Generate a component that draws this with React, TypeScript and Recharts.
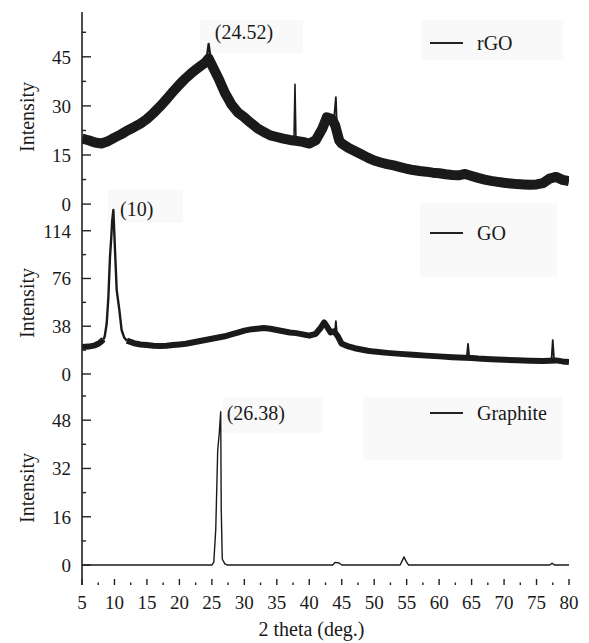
import React from 'react';
import { LineChart, Line, XAxis, YAxis, ReferenceDot, Label } from 'recharts';

const FONT = '"Liberation Serif", "Times New Roman", serif';
const INK = '#1a1a1a';
const FRAME = '#222';

// ---- axes ----
const thetaDomain: [number, number] = [5, 80];
const thetaMajorTicks = [5, 10, 15, 20, 25, 30, 35, 40, 45, 50, 55, 60, 65, 70, 75, 80];
const thetaMinorTicks = [7.5, 12.5, 17.5, 22.5, 27.5, 32.5, 37.5, 42.5, 47.5, 52.5, 57.5, 62.5, 67.5, 72.5, 77.5];

const rgoMajorTicks = [0, 15, 30, 45];
const rgoMinorTicks = [7.5, 22.5, 37.5, 52.5];
const goMajorTicks = [0, 38, 76, 114];
const goMinorTicks = [19, 57, 95];
const graphiteMajorTicks = [0, 16, 32, 48];
const graphiteMinorTicks = [8, 24, 40, 56];

const rgoDomain: [number, number] = [-1.2, 58.7];
const goDomain: [number, number] = [-4.8, 132.1];
const graphiteDomain: [number, number] = [-6.6, 61.3];

// ---- series names ----
const seriesNames = ['rGO', 'GO', 'Graphite'];

// ---- data: [2theta, intensity] ----
const rgoBand = [
  [5, 20], [6, 19.5], [7, 18.8], [8, 18.5], [9, 19.2], [10, 20.3], [11, 21.3], [12, 22.5], [13, 23.5], [14, 24.6],
  [15, 26], [16, 27.8], [17, 29.8], [18, 32], [19, 34.3], [20, 36.5], [21, 38.5], [22, 40.3], [23, 41.8], [24, 43.3],
  [24.5, 44.5], [25, 42.5], [26, 38.5], [27, 34], [28, 30.5], [29, 28], [30, 26.5], [31, 24.8], [32, 23.2], [33, 22],
  [34, 21], [35, 20.5], [36, 20], [37, 19.6], [38, 19.3], [39, 19], [40, 18.5], [41, 19.5], [42, 23], [42.7, 26.5],
  [43.5, 26], [44, 24], [44.6, 19.5], [45, 18.5], [46, 17.2], [47, 16.2], [48, 15.2], [49, 14.2], [50, 13.3], [51, 12.7],
  [52, 12.2], [53, 11.8], [54, 11.3], [55, 10.8], [56, 10.4], [57, 10.1], [58, 9.9], [59, 9.6], [60, 9.4], [61, 9.1],
  [62, 8.9], [63, 8.8], [64, 9.2], [65, 8.6], [66, 8], [67, 7.5], [68, 7.1], [69, 6.8], [70, 6.5], [71, 6.3],
  [72, 6.1], [73, 6], [74, 5.9], [75, 6], [76, 6.4], [77, 7.8], [78, 8.3], [79, 7.4], [80, 7],
];
const rgoPeakTop = [[24.15, 44], [24.5, 49], [24.85, 44]];
const rgoSpike38 = [[37.65, 19.8], [37.8, 36.6], [37.95, 19.6]];
const rgoSpike44 = [[43.85, 27], [44.1, 32.7], [44.3, 21]];

const goBandLeft = [[5, 21.5], [6, 21.8], [7, 22.8], [7.5, 24], [8, 26], [8.3, 27.5]];
const goPeak = [
  [8.3, 27.5], [8.5, 30], [8.8, 40], [9.06, 61], [9.31, 93], [9.5, 108], [9.65, 122], [9.83, 130.5],
  [10.08, 99], [10.34, 67], [10.75, 51], [11.1, 35], [11.5, 29], [11.9, 26.5],
];
const goBandRight = [
  [11.9, 26.5], [13, 24.5], [14, 23.5], [15, 23], [16, 22.5], [17, 22.3], [18, 22.5], [19, 23], [20, 23.5], [21, 24],
  [22, 25], [23, 26], [24, 27], [25, 28], [26, 29], [27, 30], [28, 31.5], [29, 33], [30, 34.5], [31, 35.5],
  [32, 36], [33, 36.5], [34, 36], [35, 35], [36, 34], [37, 33], [38, 32.5], [39, 31.5], [40, 30.5], [41, 32],
  [41.8, 37], [42.3, 41], [42.8, 37], [43.3, 33], [43.8, 34], [44.4, 30], [45, 24], [46, 22], [47, 20.5], [48, 19.5],
  [49, 18.5], [50, 17.8], [52, 16.8], [54, 16], [56, 15.3], [58, 14.6], [60, 14], [62, 13.4], [64, 13], [65, 12.7],
  [66, 12.3], [68, 11.8], [70, 11.3], [72, 10.9], [74, 10.6], [76, 10.3], [77, 10.5], [78, 10.8], [79, 10], [80, 9.5],
];
const goSpike44 = [[43.95, 33], [44.1, 42], [44.3, 29]];
const goSpike64 = [[64.25, 13], [64.45, 24], [64.65, 12.8]];
const goSpike77 = [[77.3, 10.6], [77.5, 27], [77.7, 10.7]];

const graphiteLine = [
  [5, 0], [25, 0], [25.3, 1], [25.6, 12], [25.9, 38], [26.15, 44], [26.36, 50.8], [26.44, 19], [26.6, 2], [27, 0.4],
  [27.4, 0], [43.6, 0], [44, 0.9], [44.6, 0.7], [45, 0], [54, 0], [54.3, 1.4], [54.6, 2.7], [54.9, 1.3], [55.3, 0],
  [77, 0], [77.4, 0.6], [77.8, 0], [80, 0],
];

// annotations
const rgoNote = { theta: 25.45, value: 52.5, text: '(24.52)' };
const goNote = { theta: 10.85, value: 131, text: '(10)' };
const graphiteNote = { theta: 27.28, value: 50.5, text: '(26.38)' };

// faint background boxes behind labels/legends (page pixels: left, top, width, height)
const shadeBoxes = [
  [200, 20, 103, 33],
  [422, 20, 141, 40],
  [420, 203, 137, 74],
  [108, 190, 75, 33],
  [223, 397, 100, 36],
  [363, 397, 199, 63],
];
// legend rows (page pixel centre line)
const legendRows = [43, 233, 413];

const toPts = (arr: number[][]) => arr.map(([x, y]) => ({ x, y }));
const sortAll = (a: number[], b: number[]) => [...a, ...b].sort((p, q) => p - q);

// ---- tick renderers ----
const leftTick = (majors: number[]) => (p: any) => {
  const v = p.payload.value;
  const major = majors.includes(v);
  return (
    <g>
      <line x1={p.x} x2={p.x + (major ? 9 : 4)} y1={p.y} y2={p.y} stroke={FRAME} strokeWidth={1.4} />
      {major && (
        <text x={p.x - 11} y={p.y} dy="0.36em" textAnchor="end" fontSize={19} fontFamily={FONT} fill={INK}>
          {v}
        </text>
      )}
    </g>
  );
};
const rightTick = (majors: number[]) => (p: any) => {
  const major = majors.includes(p.payload.value);
  return <line x1={p.x} x2={p.x - (major ? 6 : 4)} y1={p.y} y2={p.y} stroke={FRAME} strokeWidth={1.4} />;
};
const topTick = (p: any) => {
  const major = thetaMajorTicks.includes(p.payload.value);
  return <line x1={p.x} x2={p.x} y1={p.y} y2={p.y + (major ? 6 : 3)} stroke={FRAME} strokeWidth={1.4} />;
};
const bottomTick = (p: any) => {
  const v = p.payload.value;
  const major = thetaMajorTicks.includes(v);
  return (
    <g>
      <line x1={p.x} x2={p.x} y1={p.y} y2={p.y - (major ? 6 : 2.5)} stroke={FRAME} strokeWidth={1.4} />
      {major && (
        <text x={p.x} y={p.y + 24} textAnchor="middle" fontSize={19} fontFamily={FONT} fill={INK}>
          {v}
        </text>
      )}
    </g>
  );
};

const intensityLabel = (shift: number) => (p: any) => {
  const vb = p.viewBox || {};
  const cy = vb.y + vb.height / 2 + shift;
  return (
    <text
      x={27}
      y={cy}
      transform={`rotate(-90, 27, ${cy})`}
      textAnchor="middle"
      dominantBaseline="central"
      fontSize={20}
      fontFamily={FONT}
      fill={INK}
    >
      Intensity
    </text>
  );
};

const noteLabel = (text: string) => (p: any) => {
  const vb = p.viewBox || {};
  return (
    <text x={vb.x} y={vb.y} dy="0.35em" fontSize={20} fontFamily={FONT} fill={INK}>
      {text}
    </text>
  );
};

const axisStroke = { stroke: FRAME, strokeWidth: 1.6 };

const seriesLine = (key: string, data: number[][], width: number) => (
  <Line
    key={key}
    xAxisId="x"
    yAxisId="l"
    data={toPts(data)}
    dataKey="y"
    type="linear"
    dot={false}
    activeDot={false}
    stroke={INK}
    strokeWidth={width}
    strokeLinejoin="round"
    isAnimationActive={false}
  />
);

const yAxes = (domain: [number, number], majors: number[], minors: number[], shift: number) => [
  <YAxis
    key="l"
    yAxisId="l"
    type="number"
    domain={domain}
    allowDataOverflow
    ticks={sortAll(majors, minors)}
    interval={0}
    width={82}
    tickSize={0}
    tickMargin={0}
    tickLine={false}
    tick={leftTick(majors)}
    axisLine={axisStroke}
  >
    <Label content={intensityLabel(shift)} />
  </YAxis>,
  <YAxis
    key="r"
    yAxisId="r"
    orientation="right"
    type="number"
    domain={domain}
    allowDataOverflow
    ticks={sortAll(majors, minors)}
    interval={0}
    width={0}
    tickSize={0}
    tickMargin={0}
    tickLine={false}
    tick={rightTick(majors)}
    axisLine={axisStroke}
  />,
];

const W = 589;
const H = 643;
const layer: React.CSSProperties = { position: 'absolute', left: 0, top: 0 };

export default function App() {
  const allTheta = sortAll(thetaMajorTicks, thetaMinorTicks);
  return (
    <div style={{ position: 'absolute', left: 0, top: 0, width: W, height: H, background: '#fff', fontFamily: FONT }}>
      {shadeBoxes.map(([l, t, w, h], i) => (
        <div key={i} style={{ position: 'absolute', left: l, top: t, width: w, height: h, background: '#f9f9f9' }} />
      ))}
      {/* rGO panel: plot rows 12..208 */}
      <div style={layer}>
        <LineChart width={W} height={H} margin={{ top: 12, right: 20, bottom: 435, left: 0 }}>
          <XAxis
            xAxisId="x"
            type="number"
            dataKey="x"
            domain={thetaDomain}
            allowDataOverflow
            orientation="top"
            height={0}
            ticks={allTheta}
            interval={0}
            tickSize={0}
            tickMargin={0}
            tickLine={false}
            tick={topTick}
            axisLine={axisStroke}
          />
          {yAxes(rgoDomain, rgoMajorTicks, rgoMinorTicks, 7)}
          {seriesLine('rgo', rgoBand, 10)}
          {seriesLine('rgo-top', rgoPeakTop, 2.2)}
          {seriesLine('rgo-s38', rgoSpike38, 1.6)}
          {seriesLine('rgo-s44', rgoSpike44, 1.8)}
          <ReferenceDot xAxisId="x" yAxisId="l" x={rgoNote.theta} y={rgoNote.value} r={0} fill="none" stroke="none">
            <Label content={noteLabel(rgoNote.text)} />
          </ReferenceDot>
        </LineChart>
      </div>
      {/* GO panel: plot rows 208..380 */}
      <div style={layer}>
        <LineChart width={W} height={H} margin={{ top: 208, right: 20, bottom: 263, left: 0 }}>
          <XAxis xAxisId="x" type="number" dataKey="x" domain={thetaDomain} allowDataOverflow hide />
          {yAxes(goDomain, goMajorTicks, goMinorTicks, 9)}
          {seriesLine('go-l', goBandLeft, 6)}
          {seriesLine('go-r', goBandRight, 6)}
          {seriesLine('go-peak', goPeak, 2.4)}
          {seriesLine('go-s44', goSpike44, 1.8)}
          {seriesLine('go-s64', goSpike64, 1.8)}
          {seriesLine('go-s77', goSpike77, 1.8)}
          <ReferenceDot xAxisId="x" yAxisId="l" x={goNote.theta} y={goNote.value} r={0} fill="none" stroke="none">
            <Label content={noteLabel(goNote.text)} />
          </ReferenceDot>
        </LineChart>
      </div>
      {/* Graphite panel: plot rows 380..585 */}
      <div style={layer}>
        <LineChart width={W} height={H} margin={{ top: 380, right: 20, bottom: 0, left: 0 }}>
          <XAxis
            xAxisId="x"
            type="number"
            dataKey="x"
            domain={thetaDomain}
            allowDataOverflow
            orientation="bottom"
            height={58}
            ticks={allTheta}
            interval={0}
            tickSize={0}
            tickMargin={0}
            tickLine={false}
            tick={bottomTick}
            axisLine={false}
          >
            <Label
              content={(p: any) => {
                const vb = p.viewBox || {};
                return (
                  <text
                    x={vb.x + vb.width / 2 - 14}
                    y={vb.y + vb.height - 7}
                    textAnchor="middle"
                    fontSize={20}
                    fontFamily={FONT}
                    fill={INK}
                  >
                    2 theta (deg.)
                  </text>
                );
              }}
            />
          </XAxis>
          {yAxes(graphiteDomain, graphiteMajorTicks, graphiteMinorTicks, 5.5)}
          {seriesLine('graphite', graphiteLine, 1.4)}
          <ReferenceDot xAxisId="x" yAxisId="l" x={graphiteNote.theta} y={graphiteNote.value} r={0} fill="none" stroke="none">
            <Label content={noteLabel(graphiteNote.text)} />
          </ReferenceDot>
        </LineChart>
      </div>
      {/* legends (top layer) */}
      {seriesNames.map((name, i) => (
        <div
          key={name}
          style={{
            position: 'absolute',
            left: 430,
            top: legendRows[i] - 12,
            height: 24,
            display: 'flex',
            alignItems: 'center',
            fontFamily: FONT,
            fontSize: 20,
            color: INK,
            lineHeight: '24px',
            whiteSpace: 'nowrap',
          }}
        >
          <span style={{ display: 'inline-block', width: 33, height: 1.3, background: '#222', marginRight: 14 }} />
          <span>{name}</span>
        </div>
      ))}
    </div>
  );
}
